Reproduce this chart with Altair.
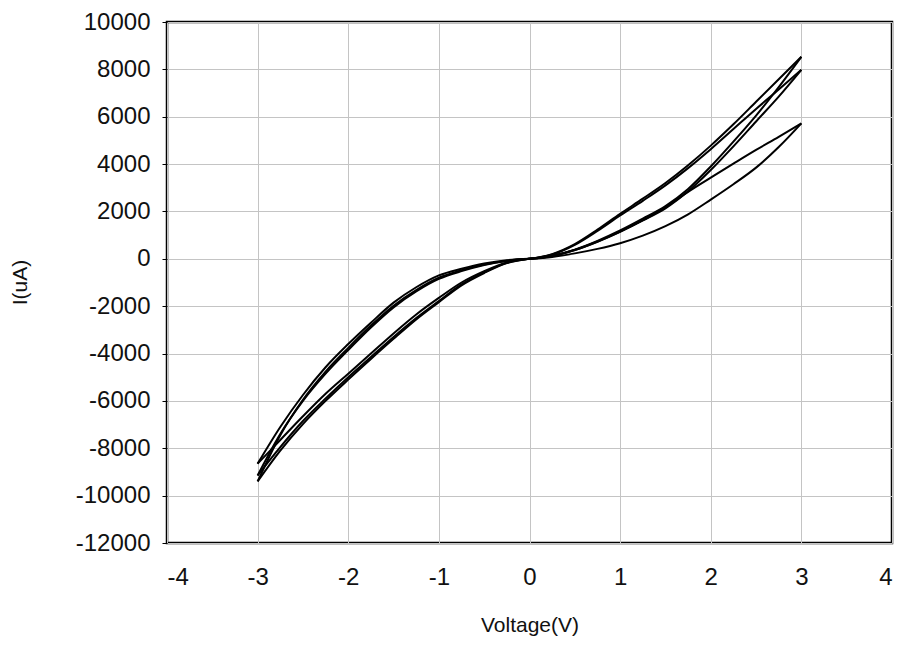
import altair as alt
import pandas as pd

# Voltage grid for positive and negative sweeps (V)
volt_pos = [0, 0.25, 0.5, 0.75, 1.0, 1.25, 1.5, 1.75, 2.0, 2.25, 2.5, 2.75, 3.0]
volt_neg = [0, -0.25, -0.5, -0.75, -1.0, -1.25, -1.5, -1.75, -2.0, -2.25, -2.5, -2.75, -3.0]

# Current (uA), one list per sweep branch
# cycle 1
c1_pos_up = [0, 80, 230, 420, 660, 980, 1380, 1880, 2500, 3150, 3850, 4720, 5720]
c1_pos_down = [0, 120, 370, 720, 1140, 1620, 2180, 2830, 3430, 4020, 4600, 5150, 5720]
c1_neg_down = [0, -60, -200, -420, -700, -1200, -1850, -2700, -3600, -4580, -5750, -7100, -8650]
c1_neg_up = [0, -150, -520, -1000, -1650, -2350, -3150, -4000, -4850, -5700, -6650, -7650, -8650]
# cycle 2
c2_pos_up = [0, 120, 370, 730, 1150, 1620, 2130, 2850, 3750, 4750, 5800, 6850, 7980]
c2_pos_down = [0, 180, 590, 1180, 1830, 2450, 3100, 3830, 4630, 5480, 6330, 7150, 7980]
c2_neg_down = [0, -90, -260, -520, -850, -1380, -2050, -2900, -3850, -4850, -6000, -7400, -9150]
c2_neg_up = [0, -170, -570, -1080, -1780, -2500, -3300, -4150, -5000, -5900, -6850, -7950, -9150]
# cycle 3
c3_pos_up = [0, 130, 390, 760, 1200, 1700, 2230, 2950, 3900, 4950, 6050, 7250, 8530]
c3_pos_down = [0, 200, 620, 1230, 1900, 2540, 3200, 3950, 4780, 5680, 6630, 7580, 8530]
c3_neg_down = [0, -80, -240, -480, -800, -1320, -1980, -2820, -3760, -4760, -5950, -7450, -9400]
c3_neg_up = [0, -180, -600, -1120, -1830, -2560, -3380, -4230, -5100, -6000, -6980, -8100, -9400]

x_ticks = [-4, -3, -2, -1, 0, 1, 2, 3, 4]
y_ticks = [-12000, -10000, -8000, -6000, -4000, -2000, 0, 2000, 4000, 6000, 8000, 10000]

branches = {
    "1-pu": (volt_pos, c1_pos_up), "1-pd": (volt_pos, c1_pos_down),
    "1-nd": (volt_neg, c1_neg_down), "1-nu": (volt_neg, c1_neg_up),
    "2-pu": (volt_pos, c2_pos_up), "2-pd": (volt_pos, c2_pos_down),
    "2-nd": (volt_neg, c2_neg_down), "2-nu": (volt_neg, c2_neg_up),
    "3-pu": (volt_pos, c3_pos_up), "3-pd": (volt_pos, c3_pos_down),
    "3-nd": (volt_neg, c3_neg_down), "3-nu": (volt_neg, c3_neg_up),
}

rows = []
for name, (vs, cur) in branches.items():
    for v, i in zip(vs, cur):
        rows.append({"V": v, "I": i, "branch": name})
df = pd.DataFrame(rows)

FONT = "Liberation Sans"

chart = (
    alt.Chart(df)
    .mark_line(color="black", strokeWidth=2, interpolate="monotone")
    .encode(
        x=alt.X(
            "V:Q",
            scale=alt.Scale(domain=[-4, 4], nice=False, zero=False),
            axis=alt.Axis(
                values=x_ticks,
                labelExpr="toString(datum.value)",
                title="Voltage(V)",
                tickSize=0,
                labelPadding=22,
                titleY=82,
                titleBaseline="middle",
            ),
        ),
        y=alt.Y(
            "I:Q",
            scale=alt.Scale(domain=[-12000, 10000], nice=False, zero=False),
            axis=alt.Axis(
                values=y_ticks,
                labelExpr="toString(datum.value)",
                title="I(uA)",
                tickSize=5,
                labelPadding=12,
                titleX=-147,
                titleY=260,
                titleBaseline="middle",
            ),
        ),
        detail="branch:N",
        order="V:Q",
    )
    .properties(
        width=725,
        height=521,
        autosize=alt.AutoSizeParams(type="none"),
        padding={"left": 159, "top": 14, "right": 4, "bottom": 95},
    )
    .configure_view(stroke="black", strokeWidth=2.5)
    .configure_axis(
        grid=True,
        gridColor="#c4c4c4",
        gridWidth=1,
        domain=False,
        tickColor="black",
        labelFont=FONT,
        labelFontSize=24,
        labelColor="#111111",
        titleFont=FONT,
        titleFontSize=21,
        titleFontWeight="normal",
        titleColor="#111111",
    )
)

chart.save("out.html", embed_options={"renderer": "svg", "actions": False})
